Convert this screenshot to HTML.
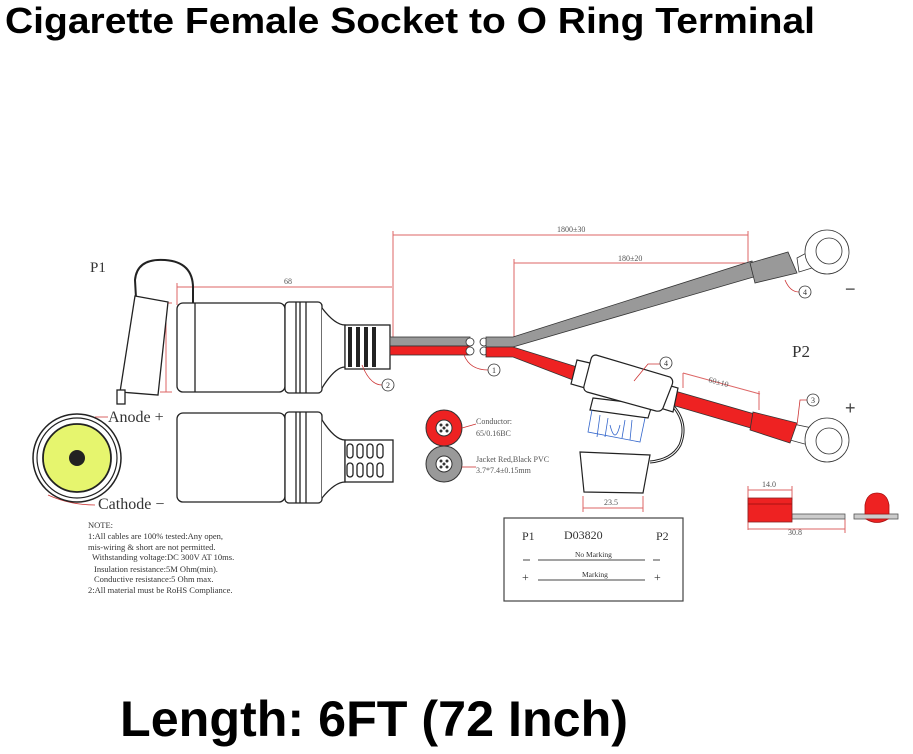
<!DOCTYPE html>
<html><head><meta charset="utf-8"><style>
html,body{margin:0;padding:0;background:#fff;}
svg{display:block}
</style></head><body>
<svg width="913" height="754" viewBox="0 0 913 754" xmlns="http://www.w3.org/2000/svg">
<rect width="913" height="754" fill="#fff"/>
<text x="5" y="33" font-family="Liberation Sans, sans-serif" font-weight="bold" font-size="36" textLength="810" lengthAdjust="spacingAndGlyphs" fill="#000">Cigarette Female Socket to O Ring Terminal</text>
<text x="120" y="736" font-family="Liberation Sans, sans-serif" font-weight="bold" font-size="50" textLength="508" lengthAdjust="spacingAndGlyphs" fill="#000">Length: 6FT (72 Inch)</text>

<g font-family="Liberation Serif, serif" fill="#333">
<text x="90" y="272" font-size="15">P1</text>
<text x="792" y="357" font-size="17">P2</text>
</g>

<!-- dimension lines -->
<g stroke="#d66" stroke-width="1" fill="none">
<line x1="177" y1="287" x2="392" y2="287"/>
<line x1="177" y1="283" x2="177" y2="305"/>
<line x1="166" y1="303" x2="166" y2="392"/>
<line x1="160" y1="303" x2="172" y2="303"/>
<line x1="160" y1="392" x2="172" y2="392"/>
<line x1="393" y1="235" x2="748" y2="235"/>
<line x1="393" y1="231" x2="393" y2="337"/>
<line x1="748" y1="231" x2="748" y2="266"/>
<line x1="514" y1="263" x2="748" y2="263"/>
<line x1="514" y1="259" x2="514" y2="338"/>
<line x1="683" y1="373" x2="760" y2="394"/>
<line x1="683" y1="373" x2="683" y2="388"/>
<line x1="759" y1="391" x2="759" y2="410"/>
<line x1="583" y1="508" x2="643" y2="508"/>
<line x1="583" y1="496" x2="583" y2="512"/>
<line x1="643" y1="496" x2="643" y2="512"/>
<line x1="748" y1="490" x2="792" y2="490"/>
<line x1="748" y1="486" x2="748" y2="530"/>
<line x1="792" y1="486" x2="792" y2="500"/>
<line x1="748" y1="529" x2="845" y2="529"/>
<line x1="845" y1="519" x2="845" y2="533"/>
</g>
<g font-family="Liberation Serif, serif" font-size="8" fill="#555">
<text x="284" y="284">68</text>
<text x="161" y="355" transform="rotate(-90 161 355)">27.5</text>
<text x="557" y="232">1800±30</text>
<text x="618" y="261">180±20</text>
<text x="708" y="382" transform="rotate(15 708 382)">60±10</text>
<text x="604" y="505">23.5</text>
<text x="762" y="487">14.0</text>
<text x="788" y="535">30.8</text>
</g>

<!-- upper socket -->
<g stroke="#222" stroke-width="1.3" fill="#fff">
<path d="M136 298 L135 280 Q137 258 165 260 Q194 262 193 290 L193 390" fill="none" stroke-width="2"/>
<path d="M135 296 L168 302 L158 395 L120 392 Z"/>
<rect x="117" y="390" width="8" height="14"/>
<rect x="177" y="303" width="108" height="89" rx="6"/>
<line x1="195" y1="303" x2="195" y2="392"/>
<rect x="285" y="302" width="37" height="91" rx="4"/>
<line x1="296" y1="302" x2="296" y2="393"/><line x1="300" y1="302" x2="300" y2="393"/><line x1="306" y1="302" x2="306" y2="393"/>
<path d="M322 308 Q335 325 345 325 L345 367 Q335 367 322 388"/>
<rect x="345" y="325" width="45" height="44"/>
<g fill="#222" stroke="none">
<rect x="348" y="327" width="4" height="40"/><rect x="356" y="327" width="4" height="40"/><rect x="364" y="327" width="4" height="40"/><rect x="372" y="327" width="4" height="40"/>
</g>
<!-- lower socket -->
<rect x="177" y="413" width="108" height="89" rx="6"/>
<rect x="285" y="412" width="37" height="91" rx="4"/>
<line x1="296" y1="412" x2="296" y2="503"/><line x1="300" y1="412" x2="300" y2="503"/><line x1="306" y1="412" x2="306" y2="503"/>
<path d="M322 420 Q335 440 345 440 L345 482 Q335 482 322 498"/>
<rect x="345" y="440" width="48" height="42"/>
<g fill="#fff"><rect x="347" y="444" width="6" height="14" rx="3"/><rect x="357" y="444" width="6" height="14" rx="3"/><rect x="367" y="444" width="6" height="14" rx="3"/><rect x="377" y="444" width="6" height="14" rx="3"/>
<rect x="347" y="463" width="6" height="14" rx="3"/><rect x="357" y="463" width="6" height="14" rx="3"/><rect x="367" y="463" width="6" height="14" rx="3"/><rect x="377" y="463" width="6" height="14" rx="3"/></g>
</g>

<!-- cables -->
<g stroke="#333" stroke-width="0.8">
<rect x="390" y="337" width="80" height="9" fill="#999"/>
<rect x="390" y="346" width="80" height="9" fill="#e22"/>
<circle cx="470" cy="342" r="4" fill="#fff"/><circle cx="470" cy="351" r="4" fill="#fff"/>
<circle cx="484" cy="342" r="4" fill="#fff"/><circle cx="484" cy="351" r="4" fill="#fff"/>
<path d="M486 337 L513 337 L752 261 L757 276 L513 347 L486 347 Z" fill="#999"/>
<path d="M486 347 L513 347 L590 371 L586 385 L513 357 L486 357 Z" fill="#e22"/>
<path d="M668 389 L765 417 L761 431 L665 403 Z" fill="#e22"/>
<path d="M797 258 L812 250 L812 268 L799 272 Z" fill="#fff"/>
<path d="M793 424 L812 428 L812 446 L790 440 Z" fill="#fff"/>
<circle cx="827" cy="252" r="22" fill="#fff"/><circle cx="829" cy="251" r="13" fill="#fff"/>
<circle cx="827" cy="440" r="22" fill="#fff"/><circle cx="829" cy="441" r="13" fill="#fff"/>
<path d="M750 263 L788 252 L797 273 L755 283 Z" fill="#999"/>
<path d="M753 412 L797 423 L790 443 L750 430 Z" fill="#e22"/>
</g>

<!-- fuse -->
<g stroke="#222" stroke-width="1.2" fill="#fff">
<path d="M667 400 Q690 420 680 445 Q672 460 650 462" fill="none" stroke-width="3"/>
<path d="M667 400 Q690 420 680 445 Q672 460 650 462" fill="none" stroke="#fff" stroke-width="1"/>
<path d="M593 398 L652 405 L648 418 L590 410 Z"/>
<path d="M577 360 L590 363 L585 388 L571 384 Z"/>
<path d="M664 384 L678 388 L673 412 L660 408 Z"/>
<path d="M596 355 L670 377 Q674 380 672 385 L663 408 Q661 412 656 411 L587 392 Q583 390 584 386 L591 359 Q592 355 596 355 Z"/>
<path d="M580 452 L650 455 L643 493 L584 492 Z"/>
</g>
<g stroke="#36c" stroke-width="0.8" fill="none">
<path d="M592 410 L588 432 L640 442 L645 418"/>
<path d="M600 415 L597 437 M632 420 L630 440 M608 418 L605 437 M625 420 L622 438"/>
<path d="M610 425 Q615 445 620 425"/>
</g>

<!-- callouts -->
<g stroke="#c33" stroke-width="0.8" fill="none">
<path d="M464 355 Q470 370 488 370"/>
<path d="M362 365 Q370 385 382 385"/>
<path d="M785 280 Q790 292 799 292"/>
<path d="M634 381 L648 364 L660 364"/>
<path d="M797 425 L800 400 L808 400"/>
<path d="M95 417 L108 417 M95 417 L80 455"/>
<path d="M48 495 Q70 505 95 505"/>
</g>
<g stroke="#333" stroke-width="0.8" fill="#fff">
<circle cx="494" cy="370" r="6"/><circle cx="388" cy="385" r="6"/><circle cx="805" cy="292" r="6"/><circle cx="666" cy="363" r="6"/><circle cx="813" cy="400" r="6"/>
</g>
<g font-family="Liberation Serif, serif" font-size="8" fill="#333" text-anchor="middle">
<text x="494" y="373">1</text><text x="388" y="388">2</text><text x="805" y="295">4</text><text x="666" y="366">4</text><text x="813" y="403">3</text>
</g>
<g font-family="Liberation Sans, sans-serif" font-size="18" fill="#444">
<text x="845" y="295">−</text><text x="845" y="414">+</text>
</g>

<!-- end view -->
<circle cx="77" cy="458" r="44" fill="#fff" stroke="#222" stroke-width="1.5"/>
<circle cx="77" cy="458" r="40" fill="#fff" stroke="#222" stroke-width="1.2"/>
<circle cx="77" cy="458" r="34" fill="#e6f56e" stroke="#222" stroke-width="1.8"/>
<circle cx="77" cy="458" r="8" fill="#222"/>
<g font-family="Liberation Serif, serif" font-size="16" fill="#333">
<text x="108" y="422">Anode +</text>
<text x="98" y="509">Cathode −</text>
</g>

<!-- notes -->
<g font-family="Liberation Serif, serif" font-size="8.5" fill="#333">
<text x="88" y="528">NOTE:</text>
<text x="88" y="539">1:All cables are 100% tested:Any open,</text>
<text x="88" y="550">mis-wiring &amp; short are not permitted.</text>
<text x="92" y="560">Withstanding voltage:DC 300V AT 10ms.</text>
<text x="94" y="572">Insulation resistance:5M Ohm(min).</text>
<text x="94" y="582">Conductive resistance:5 Ohm max.</text>
<text x="88" y="593">2:All material must be RoHS Compliance.</text>
</g>

<!-- cross sections -->
<circle cx="444" cy="428" r="18" fill="#e22" stroke="#333"/>
<circle cx="444" cy="428" r="8" fill="#fff" stroke="#333"/>
<circle cx="444" cy="464" r="18" fill="#999" stroke="#333"/>
<circle cx="444" cy="464" r="8" fill="#fff" stroke="#333"/>
<g fill="#333"><circle cx="441" cy="425" r="1.5"/><circle cx="447" cy="425" r="1.5"/><circle cx="441" cy="431" r="1.5"/><circle cx="447" cy="431" r="1.5"/><circle cx="444" cy="428" r="1.5"/>
<circle cx="441" cy="461" r="1.5"/><circle cx="447" cy="461" r="1.5"/><circle cx="441" cy="467" r="1.5"/><circle cx="447" cy="467" r="1.5"/><circle cx="444" cy="464" r="1.5"/></g>
<g stroke="#c33" stroke-width="0.8" fill="none"><path d="M462 428 L476 424"/><path d="M462 467 L476 467"/></g>
<g font-family="Liberation Serif, serif" font-size="8" fill="#555">
<text x="476" y="424">Conductor:</text>
<text x="476" y="436">65/0.16BC</text>
<text x="476" y="462">Jacket Red,Black PVC</text>
<text x="476" y="473">3.7*7.4±0.15mm</text>
</g>

<!-- marking box -->
<rect x="504" y="518" width="179" height="83" fill="#fff" stroke="#444" stroke-width="1.2"/>
<g font-family="Liberation Serif, serif" fill="#333">
<text x="522" y="540" font-size="12">P1</text>
<text x="564" y="539" font-size="12">D03820</text>
<text x="656" y="540" font-size="12">P2</text>
<text x="575" y="557" font-size="7.5">No Marking</text>
<text x="582" y="577" font-size="7.5">Marking</text>
<text x="522" y="581" font-size="12">+</text><text x="654" y="581" font-size="12">+</text>
</g>
<g stroke="#444" stroke-width="1">
<line x1="538" y1="560" x2="645" y2="560"/><line x1="538" y1="580" x2="645" y2="580"/>
<line x1="523" y1="560" x2="530" y2="560"/><line x1="653" y1="560" x2="660" y2="560"/>
</g>

<!-- terminal side view -->
<rect x="792" y="514" width="53" height="5" fill="#ccc" stroke="#555" stroke-width="0.8"/>
<rect x="748" y="498" width="44" height="24" fill="#e22" stroke="#822" stroke-width="0.8"/>
<line x1="748" y1="504" x2="792" y2="504" stroke="#a11"/>
<rect x="854" y="514" width="44" height="5" fill="#ccc" stroke="#555" stroke-width="0.8"/>
<path d="M865 514 L865 505 Q867 493 877 493 Q887 493 889 505 L889 514 Z M866 519 Q877 526 888 519 Z" fill="#e22" stroke="#a11" stroke-width="0.8"/>
</svg>
</body></html>
